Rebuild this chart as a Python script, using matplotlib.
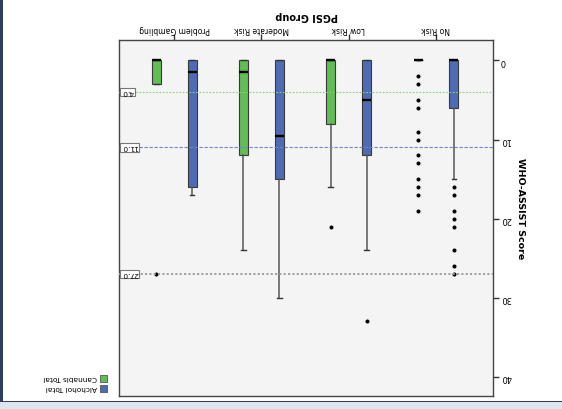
import matplotlib.pyplot as plt
from matplotlib.patches import Rectangle

# chart is drawn upside down (rotated 180 degrees), as in the reference
groups = ["No Risk", "Low Risk", "Moderate Risk", "Problem Gambling"]

# Alchohol Total box stats per group
alc_q1 = [0, 0, 0, 0]
alc_med = [0, 5, 9.5, 1.5]
alc_q3 = [6, 12, 15, 16]
alc_lo = [0, 0, 0, 0]
alc_hi = [15, 24, 30, 17]
alc_fliers = [[16, 17, 19, 20, 21, 24, 26, 27], [33], [], []]

# Cannabis Total box stats per group
can_q1 = [0, 0, 0, 0]
can_med = [0, 0, 1.5, 0]
can_q3 = [0, 8, 12, 3]
can_lo = [0, 0, 0, 0]
can_hi = [0, 16, 24, 3]
can_fliers = [[2, 3, 5, 6, 9, 10, 12, 13, 15, 16, 17, 19], [21], [], [27]]

ref_values = [4.0, 11.0, 27.0]
ref_labels = ["4.0", "11.0", "27.0"]
ref_colors = ["#8fcf80", "#7185c4", "#9a9a9a"]
ref_styles = [(0, (1.5, 1.5)), (0, (3, 1.5)), (0, (1.2, 1.2))]
ref_widths = [0.8, 0.8, 1.3]

yticks = [0, 10, 20, 30, 40]

blue = "#4f6bb4"
green = "#62bd55"

W, H = 562, 409
fig = plt.figure(figsize=(W / 100, H / 100), dpi=100)
fig.patch.set_facecolor("white")


def fx(px):
    return px / W


def fy(py):
    return 1 - py / H


ax = fig.add_axes([fx(119), fy(396), fx(493) - fx(119), (396 - 40) / H])
ax.set_facecolor("#f3f4f3")


def stats(q1, med, q3, lo, hi, fl):
    return [dict(q1=q1[i], med=med[i], q3=q3[i], whislo=lo[i], whishi=hi[i],
                 fliers=fl[i]) for i in range(len(q1))]


off = 0.206
bw = 0.103
flierprops = dict(marker="o", markerfacecolor="black", markeredgecolor="black",
                  markersize=1.9, linestyle="none")
for st, col, sign in [(stats(alc_q1, alc_med, alc_q3, alc_lo, alc_hi, alc_fliers), blue, -1),
                      (stats(can_q1, can_med, can_q3, can_lo, can_hi, can_fliers), green, 1)]:
    pos = [i + sign * off for i in range(len(groups))]
    ax.bxp(st, positions=pos, widths=bw, patch_artist=True, manage_ticks=False,
           showcaps=True, capwidths=0.055,
           boxprops=dict(facecolor=col, edgecolor="#3a3a3a", linewidth=0.8),
           medianprops=dict(color="black", linewidth=1.7),
           whiskerprops=dict(color="#555555", linewidth=1.1),
           capprops=dict(color="#333333", linewidth=1.0),
           flierprops=flierprops)

for v, c, ls, lw in zip(ref_values, ref_colors, ref_styles, ref_widths):
    ax.axhline(v, color=c, linestyle=ls, linewidth=lw, zorder=5)

ax.set_xlim(3.631, -0.653)
ax.set_ylim(42.42, -2.58)

ax.xaxis.tick_top()
ax.set_xticks(range(len(groups)))
ax.set_xticklabels(groups)
ax.yaxis.tick_right()
ax.set_yticks(yticks)
ax.tick_params(axis="x", length=4, width=1, color="#333333", labelsize=5.5,
               labelrotation=180, pad=0.5)
ax.tick_params(axis="y", length=4, width=1, color="#333333", labelsize=6,
               labelrotation=180, pad=1.5)
for s in ax.spines.values():
    s.set_color("#444444")
    s.set_linewidth(1.0)

# titles (upside down)
fig.text(fx(307), fy(16), "PGSI Group", rotation=180, ha="center", va="center",
         fontsize=7, fontweight="bold")
fig.text(fx(521), fy(209), "WHO-ASSIST Score", rotation=270, ha="center",
         va="center", fontsize=6.8, fontweight="bold")

# reference line labels
for v, lab in zip(ref_values, ref_labels):
    fig.text(fx(121.5), fy(60.4 + 7.91 * v), lab, rotation=180, ha="left",
             va="center", fontsize=5.4, zorder=10,
             bbox=dict(boxstyle="square,pad=0.18", fc="white", ec="#777777", lw=0.8))

# legend (upside down)
for py, col, lab in [(378.5, green, "Cannabis Total"), (388.5, blue, "Alchohol Total")]:
    fig.patches.append(Rectangle((fx(99.5), fy(py + 3.5)), 7 / W, 7 / H,
                                 transform=fig.transFigure, fc=col,
                                 ec="#555555", lw=0.6))
    fig.text(fx(97), fy(py), lab, rotation=180, ha="right", va="center",
             fontsize=5.3)

# window frame
fig.patches.append(Rectangle((0, 0), 3 / W, 1, transform=fig.transFigure,
                             fc="#2d3f5e", ec="none"))
fig.patches.append(Rectangle((0, 0), 1, 7 / H, transform=fig.transFigure,
                             fc="#dfe5ee", ec="none"))
fig.patches.append(Rectangle((0, 7 / H), 1, 1.5 / H, transform=fig.transFigure,
                             fc="#2d3f5e", ec="none"))

fig.savefig("out.png", dpi=100)
